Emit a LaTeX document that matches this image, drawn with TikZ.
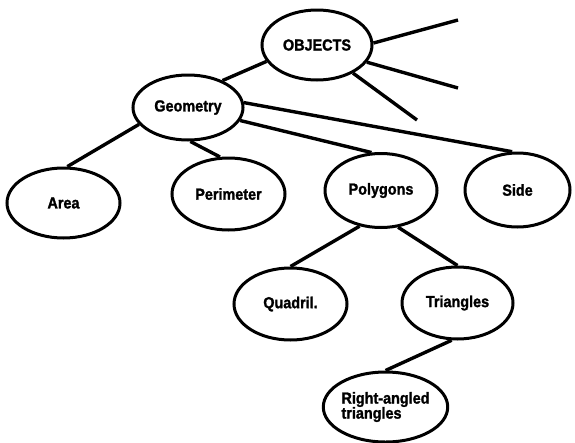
\documentclass[tikz,border=0pt]{standalone}
\usepackage{fontspec}
\setmainfont{Liberation Sans}[FakeStretch=0.9,BoldFeatures={FakeBold=1.5}]
\usetikzlibrary{shapes.geometric}
\begin{document}
\begin{tikzpicture}[x=1pt,y=-1pt,
  concept/.style={ellipse,draw,line width=3pt,inner sep=0pt,
    minimum width=112pt,minimum height=71pt,font=\fontsize{16}{15}\selectfont\bfseries,align=left},
  link/.style={line width=3.4pt}]
\useasboundingbox (0,0) rectangle (575,442);
\node[concept,minimum width=110pt,minimum height=70pt] (obj) at (317,45) {OBJECTS};
\node[concept,minimum width=110pt,minimum height=65pt] (geo) at (188,107.5) {Geometry};
\node[concept,minimum width=113pt,minimum height=70pt] (area) at (63.5,203) {Area};
\node[concept,minimum width=113pt,minimum height=72pt] (per) at (228.5,194) {Perimeter};
\node[concept,minimum width=112pt,minimum height=74pt] (poly) at (381,190.5) {Polygons};
\node[concept,minimum width=105pt,minimum height=74pt] (side) at (517.5,190) {Side};
\node[concept,minimum width=113pt,minimum height=72pt] (quad) at (290.5,304) {Quadril.};
\node[concept,minimum width=111pt,minimum height=72pt] (tri) at (457.5,303) {Triangles};
\node[concept,minimum width=111pt,minimum height=70pt] (right) at (385.5,407) {Right-angled\\triangles};
\coordinate (e1) at (458,20);
\coordinate (e2) at (458,88);
\coordinate (e3) at (417,120);
\draw[link] (obj.2) -- (e1);
\draw[link] (obj.341) -- (e2);
\draw[link] (obj.322) -- (e3);
\draw[link] (geo.38) -- (obj.198);
\draw[link] (geo.199) -- (area.84);
\draw[link] (geo.274) -- (per.103);
\draw[link] (geo.346) -- (poly.104);
\draw[link] (geo.5) -- (side.98);
\draw[link] (poly.239) -- (quad.90);
\draw[link] (poly.295) -- (tri.90);
\draw[link] (tri.261) -- (right.90);
\end{tikzpicture}
\end{document}
